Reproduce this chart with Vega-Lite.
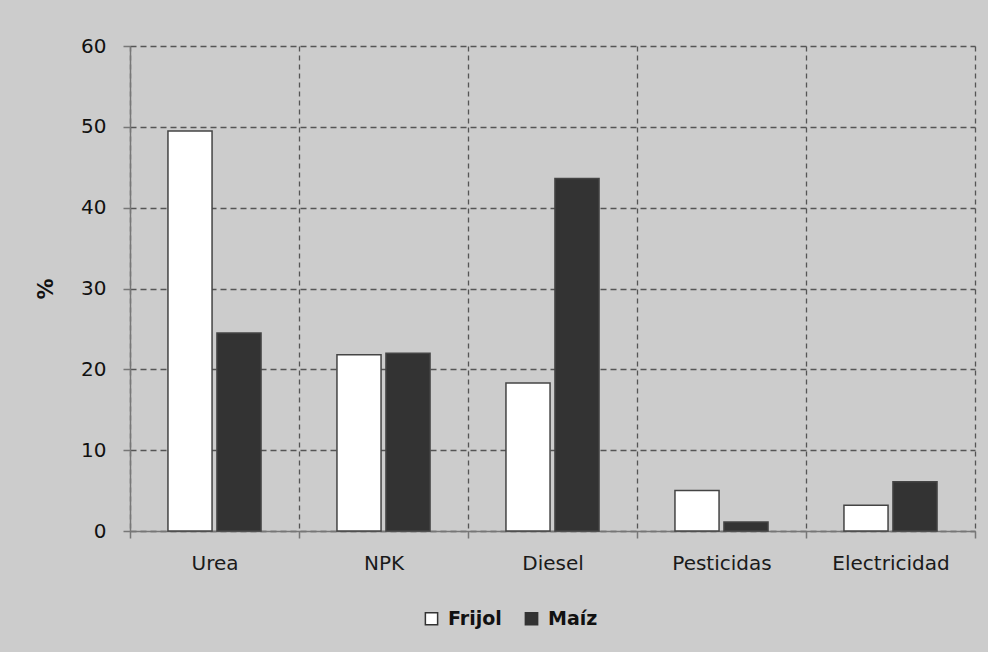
{
  "$schema": "https://vega.github.io/schema/vega-lite/v6.json",
  "width": 845,
  "height": 485,
  "autosize": {"type": "none"},
  "padding": {"left": 130, "top": 46, "right": 13, "bottom": 121},
  "background": "#cccccc",
  "config": {
    "view": {"stroke": null},
    "font": "DejaVu Sans"
  },
  "data": {
    "values": [
      {"insumo": "Urea", "cultivo": "Frijol", "valor": 49.5},
      {"insumo": "Urea", "cultivo": "Maíz", "valor": 24.5},
      {"insumo": "NPK", "cultivo": "Frijol", "valor": 21.8},
      {"insumo": "NPK", "cultivo": "Maíz", "valor": 22.0},
      {"insumo": "Diesel", "cultivo": "Frijol", "valor": 18.3},
      {"insumo": "Diesel", "cultivo": "Maíz", "valor": 43.6},
      {"insumo": "Pesticidas", "cultivo": "Frijol", "valor": 5.0},
      {"insumo": "Pesticidas", "cultivo": "Maíz", "valor": 1.1},
      {"insumo": "Electricidad", "cultivo": "Frijol", "valor": 3.2},
      {"insumo": "Electricidad", "cultivo": "Maíz", "valor": 6.1}
    ]
  },
  "mark": {"type": "bar", "stroke": "#444444", "strokeWidth": 1.5},
  "encoding": {
    "x": {
      "field": "insumo",
      "type": "nominal",
      "sort": ["Urea", "NPK", "Diesel", "Pesticidas", "Electricidad"],
      "scale": {"paddingInner": 0, "paddingOuter": 0},
      "axis": {
        "title": null,
        "labelAngle": 0,
        "labelFontSize": 20,
        "labelColor": "#1a1a1a",
        "labelPadding": 15,
        "tickBand": "extent",
        "tickSize": 7,
        "tickColor": "#777777",
        "tickWidth": 1.5,
        "domainColor": "#777777",
        "domainWidth": 1.5,
        "grid": true,
        "gridColor": "#555555",
        "gridDash": [5, 4],
        "gridWidth": 1.3
      }
    },
    "xOffset": {
      "field": "cultivo",
      "type": "nominal",
      "sort": ["Frijol", "Maíz"],
      "scale": {"paddingInner": 0.1, "paddingOuter": 0.775}
    },
    "y": {
      "field": "valor",
      "type": "quantitative",
      "scale": {"domain": [0, 60]},
      "axis": {
        "title": "%",
        "titleFontSize": 21,
        "titleFontWeight": "bold",
        "titleColor": "#111111",
        "titlePadding": 24,
        "values": [0, 10, 20, 30, 40, 50, 60],
        "labelFontSize": 20,
        "labelColor": "#111111",
        "labelPadding": 17,
        "tickSize": 7,
        "tickColor": "#777777",
        "tickWidth": 1.5,
        "domainColor": "#777777",
        "domainWidth": 1.5,
        "grid": true,
        "gridColor": "#555555",
        "gridDash": [6, 4],
        "gridWidth": 1.3
      }
    },
    "fill": {
      "field": "cultivo",
      "type": "nominal",
      "sort": ["Frijol", "Maíz"],
      "scale": {"domain": ["Frijol", "Maíz"], "range": ["#ffffff", "#333333"]},
      "legend": {
        "title": null,
        "orient": "none",
        "legendX": 292,
        "legendY": 563,
        "direction": "horizontal",
        "symbolType": "square",
        "symbolSize": 150,
        "symbolStrokeColor": "#333333",
        "symbolStrokeWidth": 1.5,
        "labelFontSize": 19,
        "labelFontWeight": "bold",
        "labelColor": "#111111",
        "labelOffset": 7,
        "columnPadding": 20
      }
    }
  }
}
